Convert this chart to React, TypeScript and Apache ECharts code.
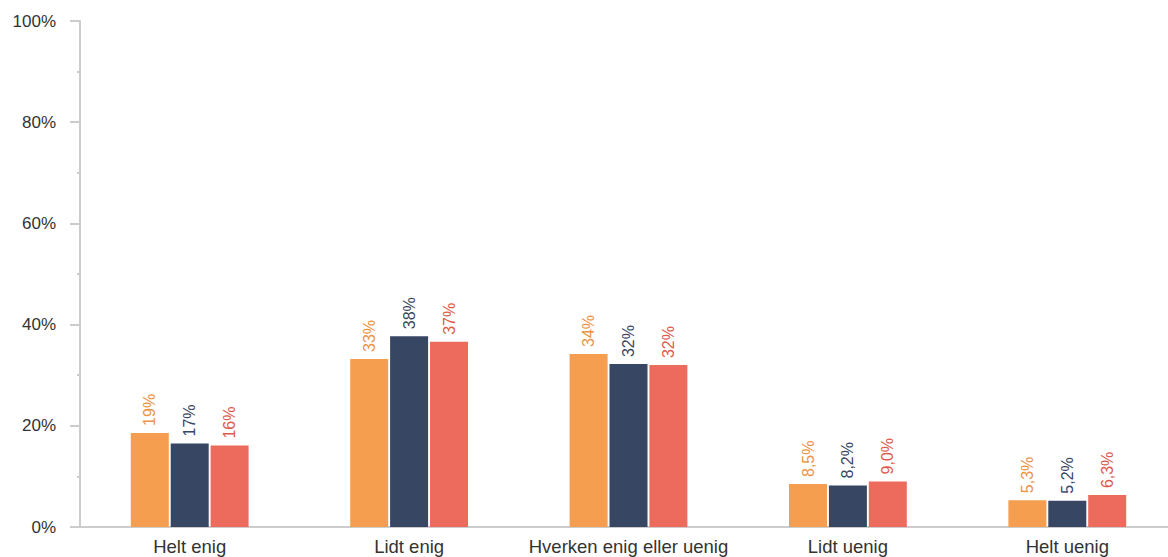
import React, { useEffect, useRef } from "react";
import * as echarts from "echarts";

const categories = ["Helt enig", "Lidt enig", "Hverken enig eller uenig", "Lidt uenig", "Helt uenig"];
const seriesA = [18.6, 33.2, 34.2, 8.5, 5.3];
const seriesB = [16.5, 37.7, 32.2, 8.2, 5.2];
const seriesC = [16.1, 36.6, 32.0, 9.0, 6.3];
const colors = ["#F59E4F", "#374663", "#EC6B5C"];
const labelColors = ["#EB9244", "#374663", "#E0584A"];

const fmt = (v: number) =>
  v < 10 ? v.toFixed(1).replace(".", ",") + "%" : Math.round(v) + "%";

export default function App() {
  const ref = useRef<HTMLDivElement>(null);
  useEffect(() => {
    document.body.style.margin = "0";
    document.documentElement.style.overflow = "hidden";
    document.body.style.overflow = "hidden";
    const chart = echarts.init(ref.current!, null, { renderer: "svg" });
    const mk = (name: string, data: number[], color: string, lc: string) => ({
      name,
      type: "bar",
      data,
      barWidth: 38,
      barGap: "5%",
      itemStyle: { color },
      label: {
        show: true,
        position: "top",
        rotate: 90,
        align: "left",
        verticalAlign: "middle",
        distance: 7,
        color: lc,
        fontSize: 16,
        fontFamily: "Liberation Sans, Arial, sans-serif",
        formatter: (p: any) => fmt(p.value),
      },
    });
    chart.setOption({
      animation: false,
      grid: { left: 80, right: 3, top: 21, bottom: 30 },
      xAxis: {
        type: "category",
        data: categories,
        axisLine: { lineStyle: { color: "#cccccc", width: 2 } },
        axisTick: { show: false },
        axisLabel: {
          color: "#333333",
          fontSize: 18.5,
          margin: 10,
          fontFamily: "Liberation Sans, Arial, sans-serif",
          interval: 0,
        },
      },
      yAxis: {
        type: "value",
        min: 0,
        max: 100,
        interval: 20,
        axisLine: { show: true, lineStyle: { color: "#cccccc", width: 2 } },
        axisTick: { show: true, length: 10, lineStyle: { color: "#cccccc", width: 2 } },
        minorTick: { show: true, splitNumber: 2, length: 3, lineStyle: { color: "#cccccc", width: 2 } },
        splitLine: { show: false },
        axisLabel: {
          color: "#333333",
          fontSize: 17,
          margin: 24,
          formatter: "{value}%",
          fontFamily: "Liberation Sans, Arial, sans-serif",
        },
      },
      series: [
        mk("A", seriesA, colors[0], labelColors[0]),
        mk("B", seriesB, colors[1], labelColors[1]),
        mk("C", seriesC, colors[2], labelColors[2]),
      ],
    });
    return () => chart.dispose();
  }, []);
  return <div ref={ref} style={{ width: 1180, height: 557 }} />;
}
